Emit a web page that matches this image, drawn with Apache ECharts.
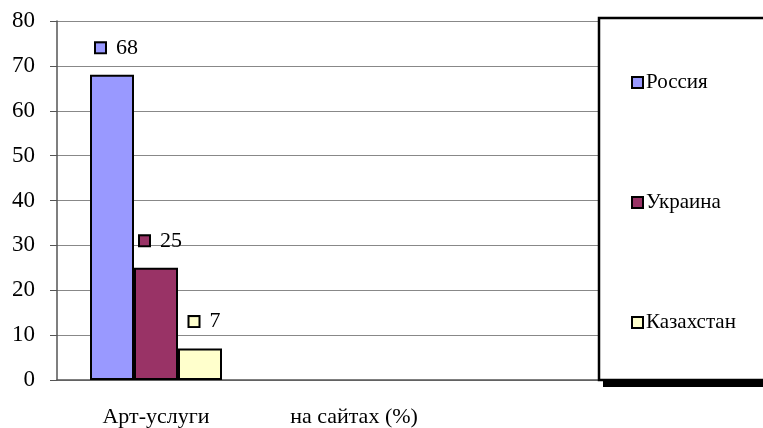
<!DOCTYPE html>
<html><head><meta charset="utf-8">
<script src="https://cdn.jsdelivr.net/npm/echarts@6/dist/echarts.min.js"></script>
<style>html,body{margin:0;padding:0;background:#fff}#c{width:763px;height:428px}</style>
</head><body><div id="c"></div>
<script>
var categories = ["Арт-услуги", "на сайтах (%)", ""];
var seriesNames = ["Россия", "Украина", "Казахстан"];
var russia = [68, null, null];
var ukraine = [25, null, null];
var kazakhstan = [7, null, null];
var yTicks = [0, 10, 20, 30, 40, 50, 60, 70, 80];
var colors = ["#9999FF", "#993366", "#FFFFCC"];
var FONT = "'Liberation Serif','Times New Roman',serif";

var chart = echarts.init(document.getElementById('c'));
function mkSeries(name, data, color) {
  return {
    name: name, type: 'bar', data: data, barWidth: 44, barGap: '0%',
    itemStyle: { color: color, borderColor: '#000', borderWidth: 2 },
    label: {
      show: true, position: 'top', distance: 16, offset: [5, 0],
      formatter: function (p) { return '{sq|}  ' + p.value; },
      fontFamily: FONT, fontSize: 22, color: '#000',
      rich: { sq: { width: 9, height: 9, backgroundColor: color, borderColor: '#000', borderWidth: 2 } }
    }
  };
}
chart.setOption({
  animation: false,
  grid: { left: 57, right: 112, top: 21, bottom: 47 },
  xAxis: {
    type: 'category', data: categories,
    axisLine: { lineStyle: { color: '#555', width: 1.5 } },
    axisTick: { show: false },
    axisLabel: { fontFamily: FONT, fontSize: 22, color: '#000', margin: 26 }
  },
  yAxis: {
    type: 'value', min: 0, max: 80, interval: 10,
    axisLine: { show: true, lineStyle: { color: '#555', width: 1.5 } },
    axisTick: { show: true, length: 7, lineStyle: { color: '#555' } },
    axisLabel: { fontFamily: FONT, fontSize: 23, color: '#000', margin: 22,
      formatter: function (v) { return yTicks.indexOf(v) >= 0 ? String(v) : ''; } },
    splitLine: { lineStyle: { color: '#888', width: 1 } }
  },
  legend: {
    orient: 'vertical', left: 626, top: 67, itemGap: 99,
    itemWidth: 11, itemHeight: 11, icon: 'rect', z: 10,
    data: seriesNames,
    itemStyle: { borderColor: '#000', borderWidth: 2 },
    textStyle: { fontFamily: FONT, fontSize: 21, color: '#000', padding: [0, 0, 0, -2] }
  },
  graphic: [{
    type: 'rect', z: 5,
    shape: { x: 603, y: 24, width: 180, height: 363 },
    style: { fill: '#000' }
  }, {
    type: 'rect', z: 6,
    shape: { x: 599, y: 18, width: 180, height: 362 },
    style: { fill: '#fff', stroke: '#000', lineWidth: 2.5 }
  }],
  series: [
    mkSeries(seriesNames[0], russia, colors[0]),
    mkSeries(seriesNames[1], ukraine, colors[1]),
    mkSeries(seriesNames[2], kazakhstan, colors[2])
  ]
});
</script></body></html>
